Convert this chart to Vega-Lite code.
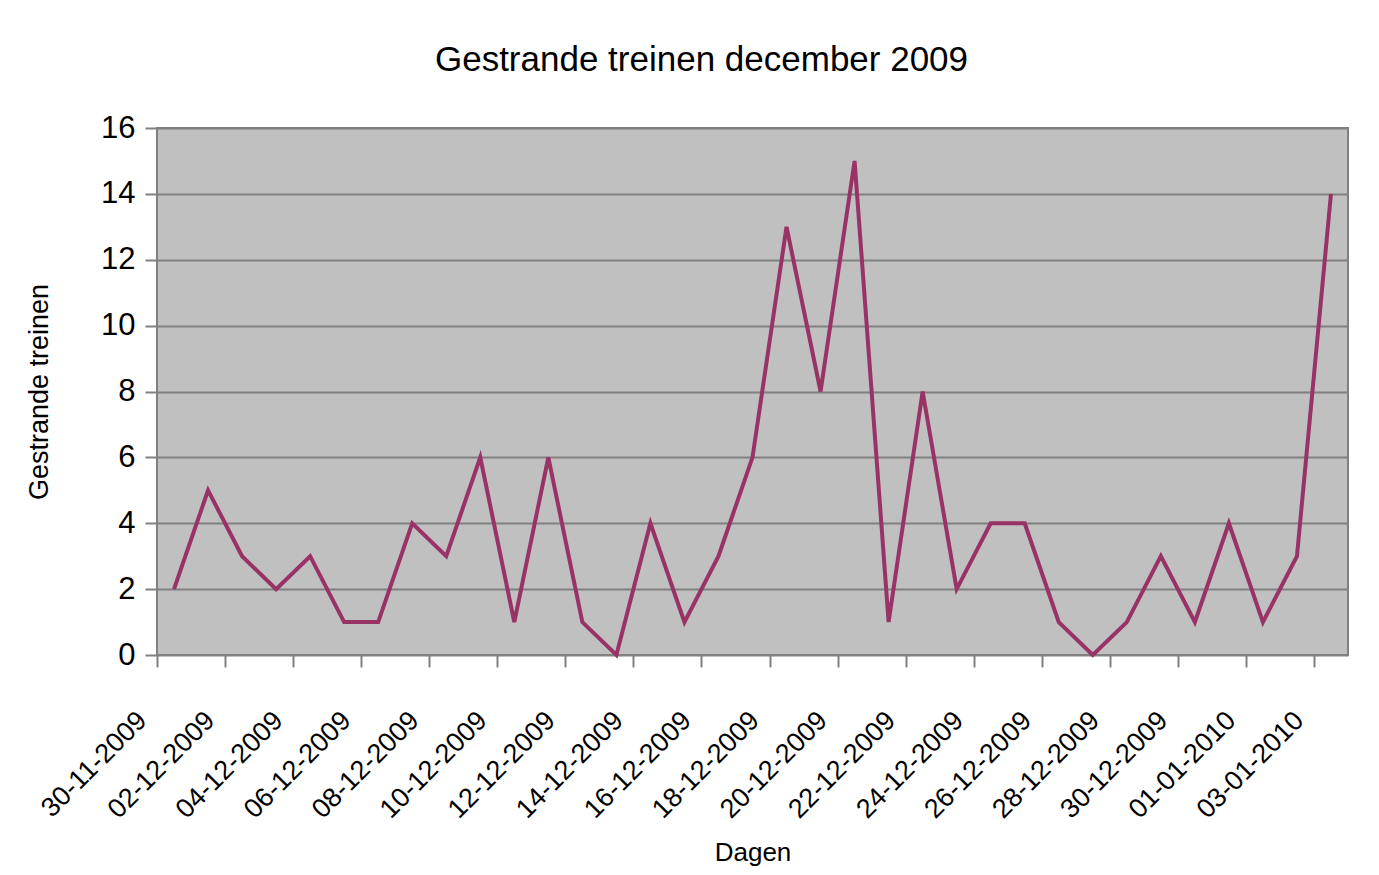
{
  "$schema": "https://vega.github.io/schema/vega-lite/v6.json",
  "width": 1191,
  "height": 527,
  "autosize": {"type": "none"},
  "padding": {"left": 157, "top": 128, "right": 31, "bottom": 220},
  "background": "white",
  "title": {
    "text": "Gestrande treinen december 2009",
    "font": "Liberation Sans",
    "fontSize": 35,
    "fontWeight": "normal",
    "color": "black",
    "anchor": "middle",
    "baseline": "alphabetic",
    "offset": 6,
    "dx": -51
  },
  "data": {
    "values": [
      {"datum": "30-11-2009", "treinen": 2},
      {"datum": "01-12-2009", "treinen": 5},
      {"datum": "02-12-2009", "treinen": 3},
      {"datum": "03-12-2009", "treinen": 2},
      {"datum": "04-12-2009", "treinen": 3},
      {"datum": "05-12-2009", "treinen": 1},
      {"datum": "06-12-2009", "treinen": 1},
      {"datum": "07-12-2009", "treinen": 4},
      {"datum": "08-12-2009", "treinen": 3},
      {"datum": "09-12-2009", "treinen": 6},
      {"datum": "10-12-2009", "treinen": 1},
      {"datum": "11-12-2009", "treinen": 6},
      {"datum": "12-12-2009", "treinen": 1},
      {"datum": "13-12-2009", "treinen": 0},
      {"datum": "14-12-2009", "treinen": 4},
      {"datum": "15-12-2009", "treinen": 1},
      {"datum": "16-12-2009", "treinen": 3},
      {"datum": "17-12-2009", "treinen": 6},
      {"datum": "18-12-2009", "treinen": 13},
      {"datum": "19-12-2009", "treinen": 8},
      {"datum": "20-12-2009", "treinen": 15},
      {"datum": "21-12-2009", "treinen": 1},
      {"datum": "22-12-2009", "treinen": 8},
      {"datum": "23-12-2009", "treinen": 2},
      {"datum": "24-12-2009", "treinen": 4},
      {"datum": "25-12-2009", "treinen": 4},
      {"datum": "26-12-2009", "treinen": 1},
      {"datum": "27-12-2009", "treinen": 0},
      {"datum": "28-12-2009", "treinen": 1},
      {"datum": "29-12-2009", "treinen": 3},
      {"datum": "30-12-2009", "treinen": 1},
      {"datum": "31-12-2009", "treinen": 4},
      {"datum": "01-01-2010", "treinen": 1},
      {"datum": "02-01-2010", "treinen": 3},
      {"datum": "03-01-2010", "treinen": 14}
    ]
  },
  "mark": {"type": "line", "color": "#993366", "strokeWidth": 4},
  "encoding": {
    "x": {
      "field": "datum",
      "type": "ordinal",
      "sort": null,
      "scale": {"type": "point", "padding": 0.5},
      "title": "Dagen",
      "axis": {
        "values": ["30-11-2009", "02-12-2009", "04-12-2009", "06-12-2009", "08-12-2009", "10-12-2009", "12-12-2009", "14-12-2009", "16-12-2009", "18-12-2009", "20-12-2009", "22-12-2009", "24-12-2009", "26-12-2009", "28-12-2009", "30-12-2009", "01-01-2010", "03-01-2010"],
        "tickOffset": -17,
        "labelOffset": -15,
        "labelAngle": -45,
        "labelAlign": "right",
        "labelBaseline": "middle",
        "labelFont": "Liberation Sans",
        "labelFontSize": 27,
        "labelColor": "black",
        "labelPadding": 49,
        "labelOverlap": false,
        "labelBound": false,
        "labelFlush": false,
        "tickSize": 12,
        "tickColor": "#808080",
        "tickWidth": 2,
        "domain": false,
        "grid": false,
        "titleFont": "Liberation Sans",
        "titleFontSize": 26,
        "titleFontWeight": "normal",
        "titleColor": "black",
        "titlePadding": 17
      }
    },
    "y": {
      "field": "treinen",
      "type": "quantitative",
      "scale": {"domain": [0, 16], "nice": false},
      "title": "Gestrande treinen",
      "axis": {
        "values": [0, 2, 4, 6, 8, 10, 12, 14, 16],
        "tickSize": 12,
        "tickColor": "#808080",
        "tickWidth": 2,
        "labelFont": "Liberation Sans",
        "labelFontSize": 31,
        "labelColor": "black",
        "labelPadding": 10,
        "domain": false,
        "grid": true,
        "gridColor": "#808080",
        "gridWidth": 2,
        "titleFont": "Liberation Sans",
        "titleFontSize": 27,
        "titleFontWeight": "normal",
        "titleColor": "black",
        "titlePadding": 47
      }
    }
  },
  "config": {
    "view": {"fill": "#C0C0C0", "stroke": "#808080", "strokeWidth": 2}
  }
}
